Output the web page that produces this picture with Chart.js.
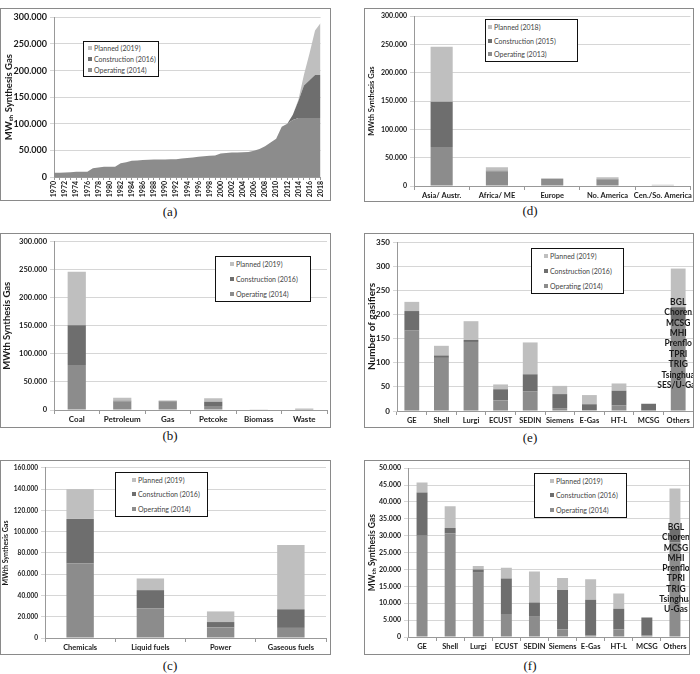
<!DOCTYPE html>
<html>
<head>
<meta charset="utf-8">
<script src="https://cdn.jsdelivr.net/npm/chart.js@4.4.1/dist/chart.umd.min.js"></script>
<style>
html,body{margin:0;padding:0;background:#fff;}
body{width:700px;height:674px;position:relative;overflow:hidden;}
.panel{position:absolute;box-sizing:border-box;border:1px solid #8a8a8a;background:#fff;}
.panel canvas{position:absolute;left:0;top:0;}
.legend{position:absolute;box-sizing:border-box;border:1.5px solid #111;background:#fff;display:flex;flex-direction:column;font-family:Lato,'Open Sans',sans-serif;font-size:7px;color:#444;}
.legend .row{flex:1;display:flex;align-items:center;white-space:nowrap;}
.legend .sw{display:inline-block;width:4px;height:4px;margin-right:2px;}
.cap{position:absolute;width:60px;text-align:center;font-family:'Liberation Serif','Times New Roman',serif;font-size:13px;color:#111;}
</style>
</head>
<body>
<div class="panel" style="left:0;top:8px;width:331px;height:193px"><canvas id="ca" width="329" height="191"></canvas></div>
<div class="panel" style="left:364px;top:8px;width:330px;height:194px"><canvas id="cd" width="328" height="192"></canvas></div>
<div class="panel" style="left:0;top:233px;width:331px;height:195px"><canvas id="cb" width="329" height="193"></canvas></div>
<div class="panel" style="left:364px;top:233px;width:330px;height:195px"><canvas id="ce" width="328" height="193"></canvas></div>
<div class="panel" style="left:0;top:460px;width:331px;height:195px"><canvas id="cc" width="329" height="193"></canvas></div>
<div class="panel" style="left:364px;top:460px;width:326px;height:195px"><canvas id="cf" width="324" height="193"></canvas></div>

<div class="cap" style="left:140px;top:204px">(a)</div>
<div class="cap" style="left:500px;top:203px">(d)</div>
<div class="cap" style="left:140px;top:428px">(b)</div>
<div class="cap" style="left:500px;top:430px">(e)</div>
<div class="cap" style="left:140px;top:658px">(c)</div>
<div class="cap" style="left:500px;top:658px">(f)</div>

<script>
// ---------- DATA ----------
const seriesNames = ['Operating (2014)', 'Construction (2016)', 'Planned (2019)'];
const seriesNamesD = ['Operating (2013)', 'Construction (2015)', 'Planned (2018)'];

// (a) cumulative capacity by year
const years = ['1970','1971','1972','1973','1974','1975','1976','1977','1978','1979',
  '1980','1981','1982','1983','1984','1985','1986','1987','1988','1989',
  '1990','1991','1992','1993','1994','1995','1996','1997','1998','1999',
  '2000','2001','2002','2003','2004','2005','2006','2007','2008','2009',
  '2010','2011','2012','2013','2014','2015','2016','2017','2018'];
const yearOperating = [8000,8000,8500,9000,10000,10000,10000,16500,18000,19500,
  19500,19500,26000,27500,30500,31000,32000,32500,33000,33000,
  33000,33500,33500,35000,35500,36500,38000,39000,40000,40500,
  44000,45000,46000,46000,46500,47000,49500,52500,58000,65000,
  72000,94500,100000,107000,111000,111000,111000,111000,111000];
const yearConstruction = [0,0,0,0,0,0,0,0,0,0, 0,0,0,0,0,0,0,0,0,0, 0,0,0,0,0,0,0,0,0,0,
  0,0,0,0,0,0,0,0,0,0, 0,0,0,10000,32000,61000,71000,80500,80500];
const yearPlanned = [0,0,0,0,0,0,0,0,0,0, 0,0,0,0,0,0,0,0,0,0, 0,0,0,0,0,0,0,0,0,0,
  0,0,0,0,0,0,0,0,0,0, 0,0,0,0,2000,20000,50000,84000,98000];

// (d) by region
const regions = ['Asia/ Austr.', 'Africa/ ME', 'Europe', 'No. America', 'Cen./So. America'];
const regionOperating = [69000, 26000, 12500, 11000, 1000];
const regionConstruction = [80000, 1000, 500, 1000, 0];
const regionPlanned = [97000, 6000, 300, 3500, 1000];

// (b) by feedstock
const feedstocks = ['Coal', 'Petroleum', 'Gas', 'Petcoke', 'Biomass', 'Waste'];
const feedOperating = [80000, 15000, 15000, 7000, 800, 2000];
const feedConstruction = [71000, 1500, 1500, 7500, 0, 0];
const feedPlanned = [95000, 5500, 0, 6200, 600, 800];

// (e) number of gasifiers by technology
const techs = ['GE', 'Shell', 'Lurgi', 'ECUST', 'SEDIN', 'Siemens', 'E-Gas', 'HT-L', 'MCSG', 'Others'];
const gasOperating = [167, 110, 143, 22, 41, 6, 2, 12, 0, 185];
const gasConstruction = [40, 5, 4, 23, 35, 29, 12, 30, 15, 30];
const gasPlanned = [19, 20, 39, 10, 66, 17, 19, 15, 0, 80];
const othersE = ['BGL', 'Choren', 'MCSG', 'MHI', 'Prenflo', 'TPRI', 'TRIG', 'Tsinghua', 'SES/U-Gas'];

// (c) by product
const products = ['Chemicals', 'Liquid fuels', 'Power', 'Gaseous fuels'];
const prodOperating = [70000, 28000, 10000, 9500];
const prodConstruction = [42000, 17000, 5000, 17500];
const prodPlanned = [28000, 11000, 10000, 60500];

// (f) capacity by technology
const techCapOperating = [30000, 30700, 19000, 6800, 6000, 2200, 500, 2200, 500, 28000];
const techCapConstruction = [12800, 1600, 1000, 10500, 4200, 11700, 10500, 6200, 5300, 4000];
const techCapPlanned = [3000, 6400, 1000, 3200, 9200, 3600, 6100, 4500, 0, 12000];
const othersF = ['BGL', 'Choren', 'MCSG', 'MHI', 'Prenflo', 'TPRI', 'TRIG', 'Tsinghua', 'U-Gas'];

// ---------- STYLE ----------
const COL_OP = '#8c8c8c', COL_CON = '#6e6e6e', COL_PLAN = '#bfbfbf';
Chart.defaults.font.family = "Lato, 'Open Sans', sans-serif";
Chart.defaults.color = '#1a1a1a';
Chart.defaults.animation = false;

function fmtDot(v){ if (v === 0) return '0'; return String(v).replace(/\B(?=(\d{3})+(?!\d))/g, '.'); }

const othersPlugin = {
  id: 'othersText',
  afterDatasetsDraw(chart, args, o) {
    if (!o || !o.lines) return;
    const ctx = chart.ctx, xs = chart.scales.x;
    const x = xs.getPixelForValue(xs.ticks.length - 1);
    ctx.save();
    ctx.font = 'bold ' + o.size + 'px Lato, sans-serif';
    ctx.fillStyle = '#1a1a1a';
    ctx.textAlign = 'center';
    ctx.textBaseline = 'middle';
    o.lines.forEach((t, i) => ctx.fillText(t, x + (o.dx || 0), chart.chartArea.top + o.top + i * o.lh));
    ctx.restore();
  }
};

function makeLegend(left, top, w, h, padLeft, names) {
  const d = document.createElement('div');
  d.className = 'legend';
  Object.assign(d.style, {left: left + 'px', top: top + 'px', width: w + 'px', height: h + 'px', paddingLeft: padLeft + 'px'});
  const items = [[names[2], COL_PLAN], [names[1], COL_CON], [names[0], COL_OP]];
  items.forEach(([t, c]) => {
    const r = document.createElement('div'); r.className = 'row';
    const s = document.createElement('span'); s.className = 'sw'; s.style.background = c;
    r.appendChild(s); r.appendChild(document.createTextNode(t));
    d.appendChild(r);
  });
  document.body.appendChild(d);
}

function yScale(o) {
  return {
    stacked: true, min: 0, max: o.max,
    ticks: {stepSize: o.step, callback: v => fmtDot(v), font: {size: o.tick, weight: 'bold'}, padding: 3},
    grid: {color: '#d6d6d6', tickLength: 4, drawTicks: true},
    border: {display: true, color: '#999'},
    title: {display: true, text: o.title, font: {size: o.tsize, weight: 'bold'}, padding: {top: o.tpad, bottom: 0}},
    afterFit: s => { s.width = o.w; }
  };
}

function barChart(id, labels, op, con, plan, o) {
  return new Chart(document.getElementById(id), {
    type: 'bar',
    data: {labels, datasets: [
      {label: 'Operating', data: op, backgroundColor: COL_OP},
      {label: 'Construction', data: con, backgroundColor: COL_CON},
      {label: 'Planned', data: plan, backgroundColor: COL_PLAN}
    ]},
    options: {
      responsive: false,
      layout: {padding: {left: 0, right: o.pr, top: o.pt, bottom: 0}},
      datasets: {bar: {categoryPercentage: 1, barPercentage: o.bar}},
      plugins: {legend: {display: false}, tooltip: {enabled: false}, othersText: o.others || {}},
      scales: {
        x: {stacked: true,
            ticks: {font: {size: o.xtick, weight: 'bold'}, padding: 1, maxRotation: 0, autoSkip: false},
            grid: {drawOnChartArea: false, drawTicks: true, tickLength: 4, color: '#999'},
            border: {display: true, color: '#999'},
            afterFit: s => { s.height = o.xh; }},
        y: yScale(o.y)
      }
    },
    plugins: [othersPlugin]
  });
}

// (a) stacked area
new Chart(document.getElementById('ca'), {
  type: 'line',
  data: {labels: years, datasets: [
    {label: 'Operating', data: yearOperating, backgroundColor: COL_OP, fill: 'origin'},
    {label: 'Construction', data: yearConstruction, backgroundColor: COL_CON, fill: '-1'},
    {label: 'Planned', data: yearPlanned, backgroundColor: COL_PLAN, fill: '-1'}
  ]},
  options: {
    responsive: false,
    layout: {padding: {left: 0, right: 4, top: 4, bottom: 0}},
    elements: {point: {radius: 0}, line: {borderWidth: 0, tension: 0}},
    plugins: {legend: {display: false}, tooltip: {enabled: false}},
    scales: {
      x: {ticks: {font: {size: 7, weight: 'bold'}, minRotation: 90, maxRotation: 90, autoSkip: false, padding: 1,
                  callback: (v, i) => (i % 2 === 0 ? years[i] : '')},
          grid: {drawOnChartArea: false, drawTicks: true, tickLength: 3, color: '#999'},
          border: {display: true, color: '#999'},
          afterFit: s => { s.height = 23; }},
      y: yScale({max: 300000, step: 50000, tick: 9, title: 'MWₜₕ Synthesis Gas', tsize: 9.5, tpad: 2, w: 53})
    }
  }
});
makeLegend(83, 41, 76, 36, 4, seriesNames);

// (d)
barChart('cd', regions, regionOperating, regionConstruction, regionPlanned, {
  pr: 2, pt: 3, bar: 0.4, xtick: 7.5, xh: 15,
  y: {max: 300000, step: 50000, tick: 7, title: 'MWth Synthesis Gas', tsize: 7.5, tpad: 2, w: 49}
});
makeLegend(485, 19, 93, 43, 2, seriesNamesD);

// (b)
barChart('cb', feedstocks, feedOperating, feedConstruction, feedPlanned, {
  pr: 3, pt: 7, bar: 0.4, xtick: 8, xh: 17,
  y: {max: 300000, step: 50000, tick: 7.5, title: 'MWth Synthesis Gas', tsize: 9.5, tpad: 0, w: 53}
});
makeLegend(215, 256, 96, 46, 14, seriesNames);

// (e)
barChart('ce', techs, gasOperating, gasConstruction, gasPlanned, {
  pr: 0, pt: 8, bar: 0.5, xtick: 7.5, xh: 16,
  y: {max: 350, step: 50, tick: 8, title: 'Number of gasifiers', tsize: 10, tpad: 1, w: 32},
  others: {lines: othersE, top: 60, lh: 10.4, size: 8.5, dx: 0}
});
makeLegend(531, 248, 93, 46, 12, seriesNames);

// (c)
barChart('cc', products, prodOperating, prodConstruction, prodPlanned, {
  pr: 4, pt: 3, bar: 0.39, xtick: 7.5, xh: 16,
  y: {max: 160000, step: 20000, tick: 6.5, title: 'MWth Synthesis Gas', tsize: 7, tpad: 1, w: 44}
});
makeLegend(115, 472, 93, 45, 16, seriesNames);

// (f)
barChart('cf', techs, techCapOperating, techCapConstruction, techCapPlanned, {
  pr: 0, pt: 4, bar: 0.39, xtick: 7.5, xh: 17,
  y: {max: 50000, step: 5000, tick: 7, title: 'MWₜₕ Synthesis Gas', tsize: 8.5, tpad: 2, w: 43},
  others: {lines: othersF, top: 59, lh: 10.3, size: 8.5, dx: 1}
});
makeLegend(534, 473, 93, 45, 15, seriesNames);
</script>
</body>
</html>
